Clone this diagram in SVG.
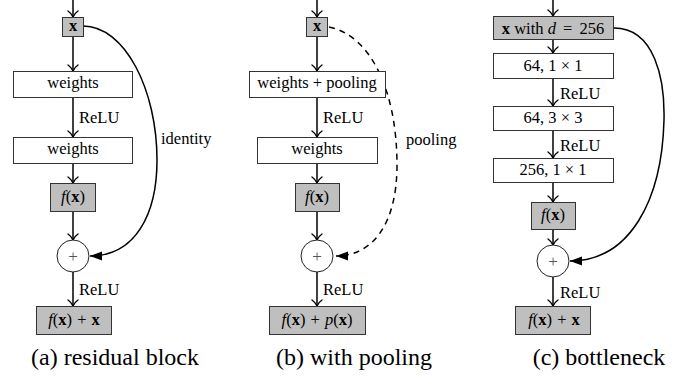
<svg xmlns="http://www.w3.org/2000/svg" width="685" height="376" viewBox="0 0 685 376" font-family="'Liberation Serif', 'Times New Roman', Times, 'DejaVu Serif', serif">
  <style>
    text { font-family: "Liberation Serif", "Times New Roman", Times, "DejaVu Serif", serif; fill: #000; }
    .lbl { font-size: 16.5px; }
    .box { font-size: 16.5px; text-anchor: middle; }
    .cap { font-size: 24px; text-anchor: middle; }
    .plus { font-size: 17px; text-anchor: middle; fill: #555; }
    .gray { fill: #bfbfbf; stroke: #333; stroke-width: 1; }
    .white { fill: #fff; stroke: #333; stroke-width: 1; }
    .sum { fill: #fff; stroke: #222; stroke-width: 1; }
    .edge { fill: none; stroke: #000; stroke-width: 1.5; marker-end: url(#to); }
    .skip { fill: none; stroke: #000; stroke-width: 1.5; marker-end: url(#tri); }
    .dash { stroke-dasharray: 6 5; }
    .b { font-weight: bold; }
    .i { font-style: italic; }
  </style>
  <defs>
    <marker id="to" markerUnits="userSpaceOnUse" markerWidth="14" markerHeight="14" viewBox="-7 -7 14 14" refX="0" refY="0" orient="auto" overflow="visible">
      <path d="M-6,-5 C-4,-2.2 -1.3,-0.5 0,0 C-1.3,0.5 -4,2.2 -6,5" fill="none" stroke="#000" stroke-width="1.4" stroke-linecap="round"/>
    </marker>
    <marker id="tri" markerUnits="userSpaceOnUse" markerWidth="16" markerHeight="12" viewBox="-14 -6 16 12" refX="0" refY="0" orient="auto" overflow="visible">
      <path d="M0,0 L-12,-4.5 L-12,4.5 Z" fill="#000"/>
    </marker>
  </defs>

  <!-- connectors -->
  <g id="connectors">
    <!-- (a) residual block -->
    <line class="edge" x1="73" y1="0" x2="73" y2="17"/>
    <line class="edge" x1="73" y1="36" x2="73" y2="71"/>
    <line class="edge" x1="73" y1="97" x2="73" y2="137"/>
    <line class="edge" x1="73" y1="163" x2="73" y2="183"/>
    <line class="edge" x1="73" y1="211" x2="73" y2="240"/>
    <line class="edge" x1="73" y1="272" x2="73" y2="306"/>
    <path class="skip" d="M83,26 C125,26 157,90 157,160 C157,215 135,256 90,256"/>
    <text class="lbl" x="79" y="122.5">ReLU</text>
    <text class="lbl" x="79" y="294.5">ReLU</text>
    <text class="lbl" x="161" y="143.5">identity</text>

    <!-- (b) with pooling -->
    <line class="edge" x1="317" y1="0" x2="317" y2="17"/>
    <line class="edge" x1="317" y1="36" x2="317" y2="71"/>
    <line class="edge" x1="317" y1="97" x2="317" y2="137"/>
    <line class="edge" x1="317" y1="163" x2="317" y2="183"/>
    <line class="edge" x1="317" y1="211" x2="317" y2="240"/>
    <line class="edge" x1="317" y1="272" x2="317" y2="306"/>
    <path class="skip dash" d="M329,27 C370,35 397,90 397,165 C397,225 372,256 336,256"/>
    <text class="lbl" x="323" y="122.5">ReLU</text>
    <text class="lbl" x="323" y="295">ReLU</text>
    <text class="lbl" x="406" y="145">pooling</text>

    <!-- (c) bottleneck -->
    <line class="edge" x1="553" y1="0" x2="553" y2="16"/>
    <line class="edge" x1="553" y1="39" x2="553" y2="53"/>
    <line class="edge" x1="553" y1="78" x2="553" y2="106"/>
    <line class="edge" x1="553" y1="130" x2="553" y2="158"/>
    <line class="edge" x1="553" y1="182" x2="553" y2="202"/>
    <line class="edge" x1="553" y1="229" x2="553" y2="245"/>
    <line class="edge" x1="553" y1="277" x2="553" y2="306"/>
    <path class="skip" d="M614,28 C655,28 665,80 664,120 C662,200 630,261 570,261"/>
    <text class="lbl" x="560" y="98.5">ReLU</text>
    <text class="lbl" x="560" y="150.5">ReLU</text>
    <text class="lbl" x="560" y="297.5">ReLU</text>
  </g>

  <!-- (a) residual block -->
  <g id="a-input">
    <rect class="gray" x="62.5" y="17.5" width="21" height="19"/>
    <text class="box b" x="73" y="30.5">x</text>
  </g>
  <g id="a-weights1">
    <rect class="white" x="13.5" y="71.5" width="119" height="26"/>
    <text class="box" x="73" y="88">weights</text>
  </g>
  <g id="a-weights2">
    <rect class="white" x="13.5" y="137.5" width="119" height="26"/>
    <text class="box" x="73" y="154">weights</text>
  </g>
  <g id="a-fx">
    <rect class="gray" x="50.5" y="183.5" width="45" height="28"/>
    <text class="box" x="73" y="202"><tspan class="i">f</tspan>(<tspan class="b">x</tspan>)</text>
  </g>
  <g id="a-sum">
    <circle class="sum" cx="73" cy="256" r="16"/>
    <text class="plus" x="73" y="261.5">+</text>
  </g>
  <g id="a-out">
    <rect class="gray" x="36.5" y="306.5" width="75" height="28"/>
    <text class="box" x="74" y="325"><tspan class="i">f</tspan>(<tspan class="b">x</tspan>) <tspan dx="1">+</tspan> <tspan dx="1" class="b">x</tspan></text>
  </g>
  <text class="cap" x="115" y="365">(a) residual block</text>

  <!-- (b) with pooling -->
  <g id="b-input">
    <rect class="gray" x="306.5" y="17.5" width="21" height="19"/>
    <text class="box b" x="317" y="30.5">x</text>
  </g>
  <g id="b-weights1">
    <rect class="white" x="249.5" y="71.5" width="136" height="26"/>
    <text class="box" x="317" y="88">weights + pooling</text>
  </g>
  <g id="b-weights2">
    <rect class="white" x="257.5" y="137.5" width="120" height="26"/>
    <text class="box" x="317" y="154">weights</text>
  </g>
  <g id="b-fx">
    <rect class="gray" x="295.5" y="183.5" width="44" height="28"/>
    <text class="box" x="317" y="202"><tspan class="i">f</tspan>(<tspan class="b">x</tspan>)</text>
  </g>
  <g id="b-sum">
    <circle class="sum" cx="317" cy="256" r="16"/>
    <text class="plus" x="317" y="261.5">+</text>
  </g>
  <g id="b-out">
    <rect class="gray" x="269.5" y="306.5" width="96" height="28"/>
    <text class="box" x="317" y="325"><tspan class="i">f</tspan>(<tspan class="b">x</tspan>) <tspan dx="1">+</tspan> <tspan dx="1" class="i">p</tspan>(<tspan class="b">x</tspan>)</text>
  </g>
  <text class="cap" x="354" y="365">(b) with pooling</text>

  <!-- (c) bottleneck -->
  <g id="c-input">
    <rect class="gray" x="493.5" y="16.5" width="120" height="23"/>
    <text class="box" x="553" y="34"><tspan class="b">x</tspan> with <tspan class="i">d</tspan> <tspan dx="3">=</tspan> <tspan dx="3">256</tspan></text>
  </g>
  <g id="c-conv1">
    <rect class="white" x="493.5" y="53.5" width="120" height="25"/>
    <text class="box" x="553" y="71">64, 1 × 1</text>
  </g>
  <g id="c-conv2">
    <rect class="white" x="493.5" y="106.5" width="120" height="24"/>
    <text class="box" x="553" y="122.5">64, 3 × 3</text>
  </g>
  <g id="c-conv3">
    <rect class="white" x="493.5" y="158.5" width="120" height="24"/>
    <text class="box" x="553" y="174.5">256, 1 × 1</text>
  </g>
  <g id="c-fx">
    <rect class="gray" x="531.5" y="202.5" width="44" height="27"/>
    <text class="box" x="553" y="220"><tspan class="i">f</tspan>(<tspan class="b">x</tspan>)</text>
  </g>
  <g id="c-sum">
    <circle class="sum" cx="553" cy="261" r="16"/>
    <text class="plus" x="553" y="266.5">+</text>
  </g>
  <g id="c-out">
    <rect class="gray" x="515.5" y="306.5" width="75" height="28"/>
    <text class="box" x="554" y="325"><tspan class="i">f</tspan>(<tspan class="b">x</tspan>) <tspan dx="1">+</tspan> <tspan dx="1" class="b">x</tspan></text>
  </g>
  <text class="cap" x="599" y="365">(c) bottleneck</text>
</svg>
